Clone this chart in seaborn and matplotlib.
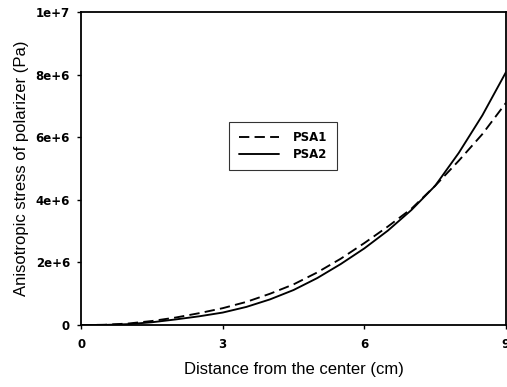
import matplotlib
matplotlib.use("Agg")
import matplotlib.pyplot as plt
import seaborn as sns
import pandas as pd

# Data (stress in Pa)
distance = [0, 0.5, 1, 1.5, 2, 2.5, 3, 3.5, 4, 4.5, 5, 5.5, 6, 6.5, 7, 7.5, 8, 8.5, 9]
psa1 = [0, 0.01e6, 0.05e6, 0.13e6, 0.24e6, 0.38e6, 0.54e6, 0.74e6, 1.0e6, 1.3e6,
        1.68e6, 2.12e6, 2.62e6, 3.15e6, 3.72e6, 4.45e6, 5.25e6, 6.1e6, 7.1e6]
psa2 = [0, 0.005e6, 0.03e6, 0.09e6, 0.18e6, 0.28e6, 0.4e6, 0.58e6, 0.82e6, 1.12e6,
        1.5e6, 1.95e6, 2.45e6, 3.02e6, 3.68e6, 4.45e6, 5.5e6, 6.7e6, 8.08e6]
series_names = ["PSA1", "PSA2"]
x_ticks = [0, 3, 6, 9]
y_ticks = [0, 2e6, 4e6, 6e6, 8e6, 1e7]
y_tick_labels = ["0", "2e+6", "4e+6", "6e+6", "8e+6", "1e+7"]

df = pd.DataFrame({
    "distance": distance * 2,
    "stress": psa1 + psa2,
    "series": [series_names[0]] * len(distance) + [series_names[1]] * len(distance),
})

sns.set_style("ticks")
plt.rcParams["font.family"] = ["Liberation Sans", "DejaVu Sans"]
plt.rcParams["text.color"] = "black"
plt.rcParams["axes.labelcolor"] = "black"
plt.rcParams["xtick.color"] = "black"
plt.rcParams["ytick.color"] = "black"

fig = plt.figure(figsize=(5.07, 3.87), dpi=100)
ax = fig.add_axes([0.160, 0.160, 0.838, 0.809])

sns.lineplot(data=df, x="distance", y="stress", style="series",
             dashes={"PSA1": (5.5, 2.8), "PSA2": ""}, color="black",
             linewidth=1.35, ax=ax, legend=True)

tick_font = {"family": "DejaVu Sans", "size": 8.5, "weight": "bold"}
ax.set_xlim(0, 9)
ax.set_ylim(0, 1e7)
ax.set_xticks(x_ticks)
ax.set_xticklabels([str(t) for t in x_ticks], fontdict=tick_font)
ax.set_yticks(y_ticks)
ax.set_yticklabels(y_tick_labels, fontdict=tick_font)
ax.tick_params(axis="both", direction="out", length=3, width=1.0, colors="black")
ax.tick_params(axis="y", pad=5)
ax.tick_params(axis="x", pad=6)
for s in ax.spines.values():
    s.set_visible(True)
    s.set_linewidth(1.3)
    s.set_color("black")

ax.set_xlabel("Distance from the center (cm)", fontsize=12, labelpad=8)
ax.set_ylabel("Anisotropic stress of polarizer (Pa)", fontsize=12, labelpad=4.5)

leg = ax.legend(loc="center", bbox_to_anchor=(0.475, 0.572), frameon=True,
                fancybox=False, edgecolor="black",
                prop={"family": "DejaVu Sans", "size": 8.5, "weight": "bold"},
                handlelength=3.4, borderpad=0.8, labelspacing=0.3,
                handletextpad=1.2)
leg.get_frame().set_linewidth(0.8)

fig.savefig("out.png", dpi=100)
